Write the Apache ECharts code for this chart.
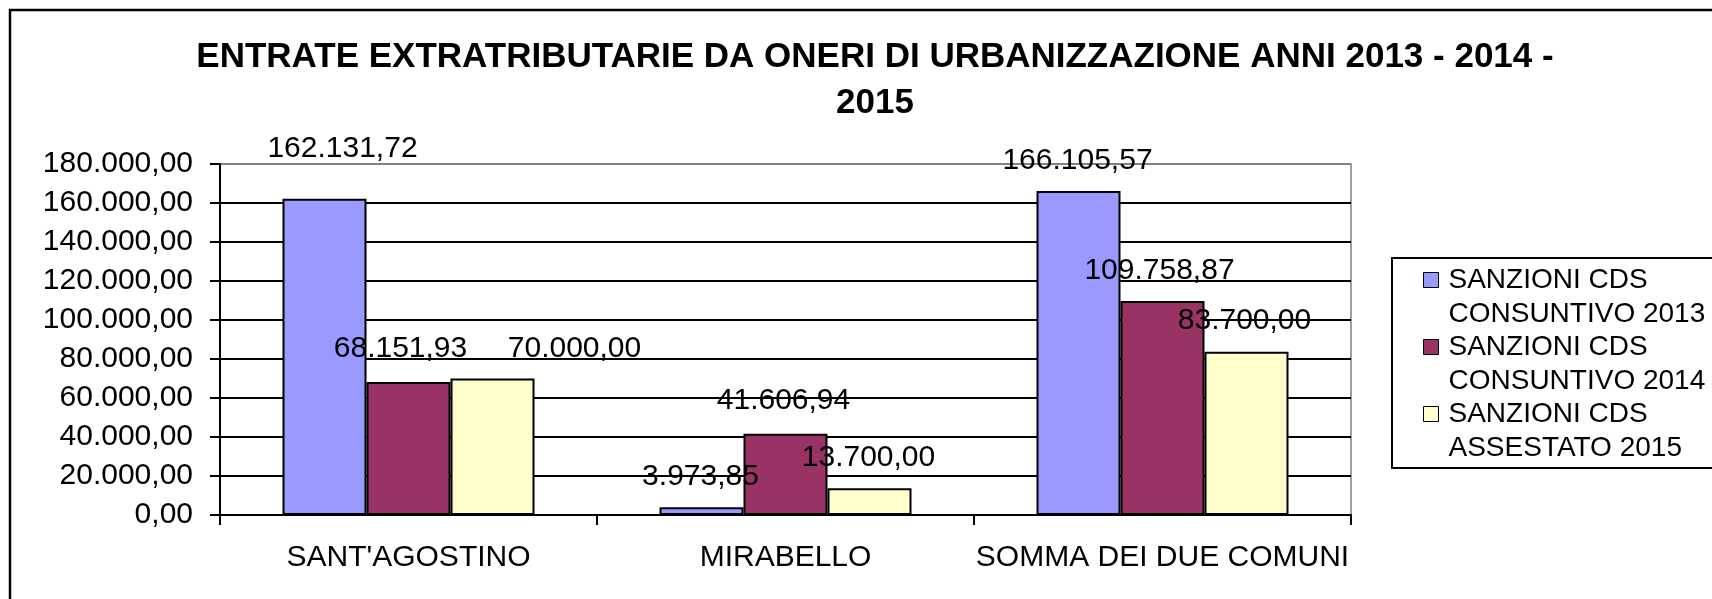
<!DOCTYPE html>
<html>
<head>
<meta charset="utf-8">
<title>Entrate extratributarie</title>
<script src="https://cdn.jsdelivr.net/npm/echarts@6/dist/echarts.min.js"></script>
<style>
  html, body { margin: 0; padding: 0; background: #fff; }
  #chart { width: 1712px; height: 599px; }
</style>
</head>
<body>
<div id="chart"></div>
<script>
// dati
const categories = ["SANT'AGOSTINO", 'MIRABELLO', 'SOMMA DEI DUE COMUNI'];
const seriesNames = [
  'SANZIONI CDS\nCONSUNTIVO 2013',
  'SANZIONI CDS\nCONSUNTIVO 2014',
  'SANZIONI CDS\nASSESTATO 2015'
];
const consuntivo2013 = [162131.72, 3973.85, 166105.57];
const consuntivo2014 = [68151.93, 41606.94, 109758.87];
const assestato2015 = [70000.00, 13700.00, 83700.00];
const yTicks = { min: 0, max: 180000, interval: 20000 };

const colors = ['#9999FF', '#993366', '#FFFFCC'];
// spostamento delle etichette rispetto alla posizione standard (px)
const labelShift = [
  [[18, -19], [-1, 0], [-1, 1]],
  [[-8, -2], [-2, -2], [-3, 1]],
  [[82, 1], [-1, 0], [-2, 0]]
];

const font = 'Liberation Sans, Arial, sans-serif';

// formato italiano: 180.000,00
function fmt(v) {
  const parts = Number(v).toFixed(2).split('.');
  parts[0] = parts[0].replace(/\B(?=(\d{3})+(?!\d))/g, '.');
  return parts[0] + ',' + parts[1];
}

const values = [consuntivo2013, consuntivo2014, assestato2015];

const chart = echarts.init(document.getElementById('chart'));

chart.setOption({
  animation: false,
  backgroundColor: '#fff',
  title: {
    text: 'ENTRATE EXTRATRIBUTARIE DA ONERI DI URBANIZZAZIONE ANNI 2013 - 2014 -\n2015',
    left: 870,
    top: 29,
    textAlign: 'center',
    textStyle: {
      fontFamily: font,
      fontSize: 35,
      fontWeight: 'bold',
      color: '#000',
      lineHeight: 46
    }
  },
  legend: {
    orient: 'vertical',
    left: 1423,
    top: 229,
    padding: 0,
    itemGap: -35,
    itemWidth: 15,
    itemHeight: 15,
    icon: 'rect',
    itemStyle: { borderColor: '#000', borderWidth: 1 },
    // riga vuota in testa: l'icona resta allineata alla prima riga del testo
    formatter: name => '\n' + name,
    textStyle: {
      fontFamily: font,
      fontSize: 28,
      color: '#000',
      lineHeight: 34,
      padding: [0, 0, 0, 5]
    },
    data: seriesNames
  },
  grid: {
    left: 220,
    top: 164,
    width: 1131,
    height: 351,
    show: true,
    borderColor: '#808080',
    borderWidth: 1.5,
    backgroundColor: 'transparent'
  },
  xAxis: {
    type: 'category',
    data: categories,
    axisLine: { lineStyle: { color: '#000', width: 2 } },
    axisTick: { show: true, length: 10, interval: 0, lineStyle: { color: '#000', width: 2 } },
    axisLabel: {
      interval: 0,
      margin: 28,
      fontFamily: font,
      fontSize: 30,
      lineHeight: 30,
      color: '#000'
    }
  },
  yAxis: {
    type: 'value',
    min: yTicks.min,
    max: yTicks.max,
    interval: yTicks.interval,
    axisLine: { show: true, lineStyle: { color: '#000', width: 2 } },
    axisTick: { show: true, length: 10, lineStyle: { color: '#000', width: 2 } },
    axisLabel: {
      margin: 27,
      fontFamily: font,
      fontSize: 30,
      color: '#000',
      formatter: fmt
    },
    splitLine: {
      show: true,
      lineStyle: {
        color: ['#000', '#000', '#000', '#000', '#000', '#000', '#000', '#000', '#000', '#808080'],
        width: 2
      }
    }
  },
  graphic: [
    {
      type: 'rect',
      shape: { x: 10, y: 10, width: 2000, height: 2000 },
      style: { fill: 'none', stroke: '#000', lineWidth: 2.5 },
      silent: true
    },
    {
      type: 'rect',
      shape: { x: 1392, y: 258, width: 400, height: 210 },
      style: { fill: 'none', stroke: '#000', lineWidth: 2 },
      silent: true
    }
  ],
  series: values.map((arr, s) => ({
    name: seriesNames[s],
    type: 'bar',
    barWidth: 84,
    barGap: '0%',
    itemStyle: { color: colors[s], borderColor: '#000', borderWidth: 2 },
    label: {
      show: true,
      position: 'top',
      distance: 16,
      fontFamily: font,
      fontSize: 30,
      lineHeight: 30,
      color: '#000',
      formatter: p => fmt(p.value)
    },
    data: arr.map((v, i) => ({
      value: v,
      label: { offset: labelShift[s][i] }
    }))
  }))
});
</script>
</body>
</html>
